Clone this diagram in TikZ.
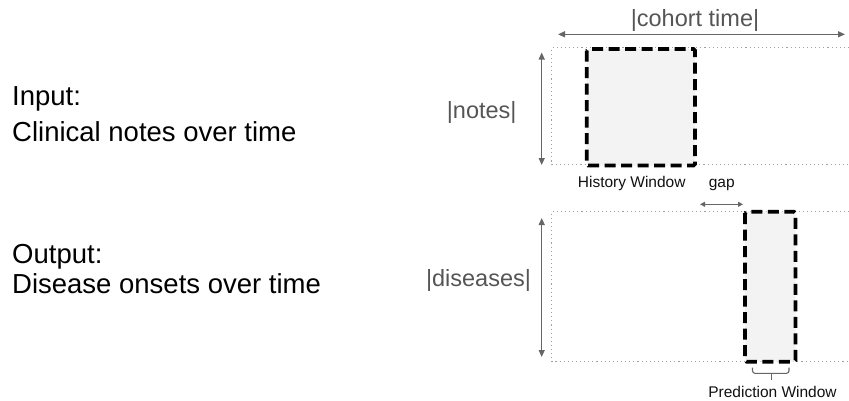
\documentclass[tikz,border=0pt]{standalone}
\usepackage{fontspec}
\setmainfont{Liberation Sans}
\usetikzlibrary{arrows.meta}
\definecolor{axisgray}{HTML}{666666}
\definecolor{labelgray}{HTML}{555555}
\definecolor{gridgray}{HTML}{A0A0A0}
\definecolor{winfill}{HTML}{F3F3F3}
\definecolor{smalltext}{HTML}{111111}
\tikzset{
  bigtext/.style={font=\fontsize{27.5}{30}\selectfont, text=black, inner sep=0pt, anchor=base west},
  axislabel/.style={font=\fontsize{23.5}{26}\selectfont, text=labelgray, inner sep=0pt, anchor=base},
  smalllabel/.style={font=\fontsize{15.5}{17}\selectfont, text=smalltext, inner sep=0pt, anchor=base},
  extent/.style={draw=axisgray, line width=1.2pt, {Triangle[length=7pt,width=6pt]}-{Triangle[length=7pt,width=6pt]}},
  panel/.style={draw=gridgray, line width=1.1pt, dash pattern=on 1.1pt off 3pt},
  window/.style={draw=black, fill=winfill, line width=3.6pt, dash pattern=on 11pt off 5.5pt, rounded corners=1.5pt},
  bracket/.style={draw=axisgray, line width=1.1pt, rounded corners=2.5pt},
}
\begin{document}
\begin{tikzpicture}[x=1pt,y=-1pt]
  \useasboundingbox (0,0) rectangle (849,400);

  % left-hand descriptions
  \node[bigtext] (inlbl)  at (12,105)   {Input:};
  \node[bigtext] (intxt)  at (12,141.5) {Clinical notes over time};
  \node[bigtext] (outlbl) at (12,263)   {Output:};
  \node[bigtext] (outtxt) at (12,293.5) {Disease onsets over time};

  % corner points of the two panels
  \coordinate (ntl) at (551.7,47.7);
  \coordinate (nbl) at (551.7,164.5);
  \coordinate (dtl) at (551.7,211.7);
  \coordinate (dbl) at (551.7,361.7);

  % dotted panels, open on the right
  \draw[panel] (849,47.7) -- (ntl) -- (nbl) -- (849,164.5);
  \draw[panel] (849,211.7) -- (dtl) -- (dbl) -- (849,361.7);

  % history and prediction windows
  \draw[window] (586.7,49) rectangle (695,165.5);
  \coordinate (hwright) at (700,204.3);
  \draw[window] (745,211.7) rectangle (795.5,361.7);
  \coordinate (pwleft) at (743,204.3);

  % extent arrows
  \coordinate (ctL) at (558,34.3);
  \coordinate (ctR) at (845,34.3);
  \draw[extent] (ctL) -- (ctR);
  \node[axislabel] (cohort) at (695,26.7) {|cohort time|};

  \coordinate (nT) at (541.7,52.5);
  \coordinate (nB) at (541.7,165);
  \draw[extent] (nT) -- (nB);
  \node[axislabel] (notes) at (481.7,118.3) {|notes|};

  \coordinate (dT) at (541.7,218);
  \coordinate (dB) at (541.7,357);
  \draw[extent] (dT) -- (dB);
  \node[axislabel] (diseases) at (478.5,286.7) {|diseases|};

  \draw[extent, line width=1pt, {Triangle[length=5pt,width=5pt]}-{Triangle[length=5pt,width=5pt]}] (hwright) -- (pwleft);

  % window captions
  \node[smalllabel] (hwcap)  at (631.7,187) {History Window};
  \node[smalllabel] (gapcap) at (721.7,187) {gap};

  % bracket under the prediction window
  \coordinate (brL) at (752.5,367.5);
  \coordinate (brR) at (789,367.5);
  \coordinate (brTip) at (771.7,380);
  \draw[bracket] (brL) -- (752.5,373.3) -- (789,373.3) -- (brR);
  \draw[bracket] (771.7,373.3) -- (brTip);
  \node[smalllabel] (pwcap) at (772.5,397.5) {Prediction Window};
\end{tikzpicture}
\end{document}
